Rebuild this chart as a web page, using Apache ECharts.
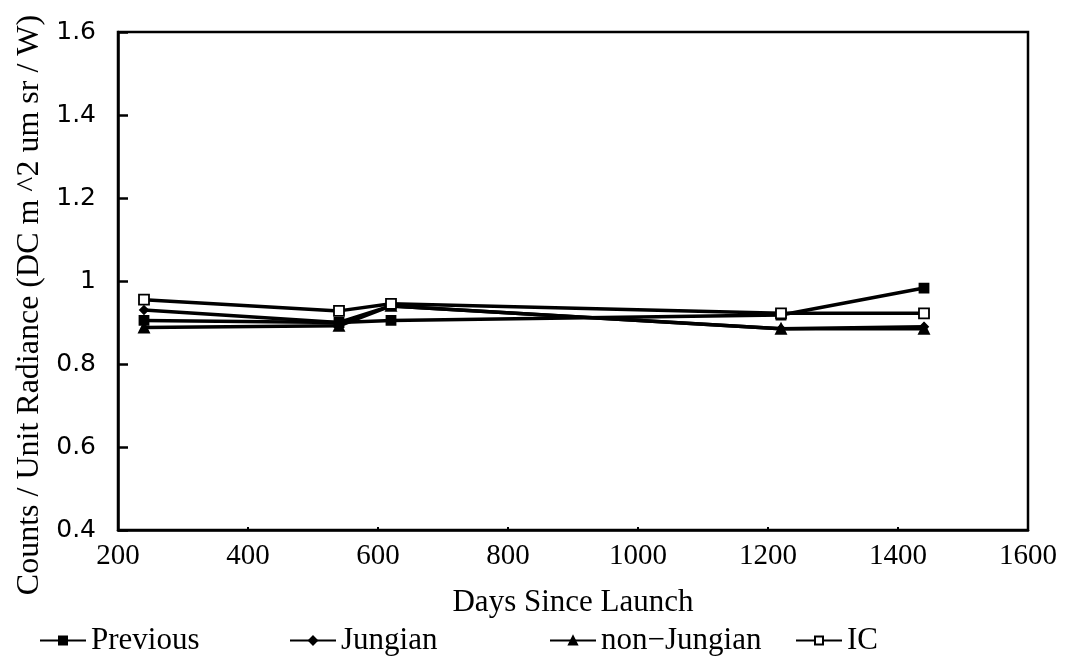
<!DOCTYPE html>
<html>
<head>
<meta charset="utf-8">
<script src="https://cdn.jsdelivr.net/npm/echarts@6/dist/echarts.min.js"></script>
<style>
  html, body { margin: 0; padding: 0; background: #fff; }
  #chart { width: 1066px; height: 662px; }
</style>
</head>
<body>
<div id="chart"></div>
<script>
// Sampling days (days since launch)
const days = [240, 540, 620, 1220, 1440];

// Counts per unit radiance for each calibration set
const previous   = [0.905, 0.900, 0.905, 0.918, 0.983];
const jungian    = [0.930, 0.900, 0.940, 0.885, 0.890];
const nonJungian = [0.888, 0.892, 0.940, 0.885, 0.885];
const ic         = [0.955, 0.928, 0.945, 0.922, 0.922];

const seriesNames = ['Previous', 'Jungian', 'non\u2212Jungian', 'IC'];
const yTitle = 'Counts / Unit Radiance (DC m ^2 um sr / W)';
const xTitle = 'Days Since Launch';

const serif = '"Liberation Serif", "DejaVu Serif", serif';
const sans = '"DejaVu Sans", Verdana, sans-serif';

function pairs(values) {
  return days.map((d, i) => [d, values[i]]);
}

function lineSeries(name, values, symbol, size, fill) {
  return {
    name: name,
    type: 'line',
    data: pairs(values),
    symbol: symbol,
    symbolSize: size,
    showSymbol: true,
    lineStyle: { color: '#000', width: 3.5 },
    itemStyle: { color: fill, borderColor: '#000', borderWidth: 1.8 },
    emphasis: { disabled: true },
    animation: false
  };
}

const chart = echarts.init(document.getElementById('chart'), null, { renderer: 'canvas' });

const legendText = { fontFamily: serif, fontSize: 31, color: '#000' };
function legendAt(name, left) {
  return {
    data: [name],
    left: left,
    top: 620,
    itemWidth: 46,
    itemHeight: 10,
    itemGap: 0,
    textStyle: legendText,
    selectedMode: false
  };
}

chart.setOption({
  backgroundColor: '#fff',
  animation: false,
  grid: {
    left: 118, right: 38, top: 32, bottom: 132,
    show: true, borderColor: '#000', borderWidth: 2.5, containLabel: false
  },
  legend: [
    legendAt(seriesNames[0], 34),
    legendAt(seriesNames[1], 284),
    legendAt(seriesNames[2], 544),
    legendAt(seriesNames[3], 790)
  ],
  graphic: [{
    type: 'text',
    x: 30,
    y: 305,
    rotation: Math.PI / 2,
    style: {
      text: yTitle,
      fontFamily: serif,
      fontSize: 32,
      fill: '#000',
      textAlign: 'center',
      textVerticalAlign: 'middle'
    }
  }],
  xAxis: {
    type: 'value',
    min: 200, max: 1600, interval: 200,
    name: xTitle,
    nameLocation: 'middle',
    nameGap: 57,
    nameTextStyle: { fontFamily: serif, fontSize: 31, color: '#000' },
    axisLine: { show: true, lineStyle: { color: '#000', width: 2.5 } },
    axisTick: { show: true, inside: true, length: 3, lineStyle: { color: '#000', width: 2 } },
    axisLabel: {
      fontFamily: serif, fontSize: 29, color: '#000', margin: 12,
      formatter: v => String(v)
    },
    splitLine: { show: false }
  },
  yAxis: {
    type: 'value',
    min: 0.4, max: 1.6, interval: 0.2,
    axisLine: { show: true, lineStyle: { color: '#000', width: 2.5 } },
    axisTick: { show: true, inside: true, length: 10, lineStyle: { color: '#000', width: 2.5 } },
    axisLabel: {
      fontFamily: sans, fontSize: 25, color: '#000', margin: 22,
      formatter: v => String(Math.round(v * 10) / 10)
    },
    splitLine: { show: false }
  },
  series: [
    lineSeries(seriesNames[0], previous, 'rect', 9, '#000'),
    lineSeries(seriesNames[1], jungian, 'diamond', 8, '#000'),
    lineSeries(seriesNames[2], nonJungian, 'triangle', 10, '#000'),
    lineSeries(seriesNames[3], ic, 'rect', 10, '#fff')
  ]
});
</script>
</body>
</html>
